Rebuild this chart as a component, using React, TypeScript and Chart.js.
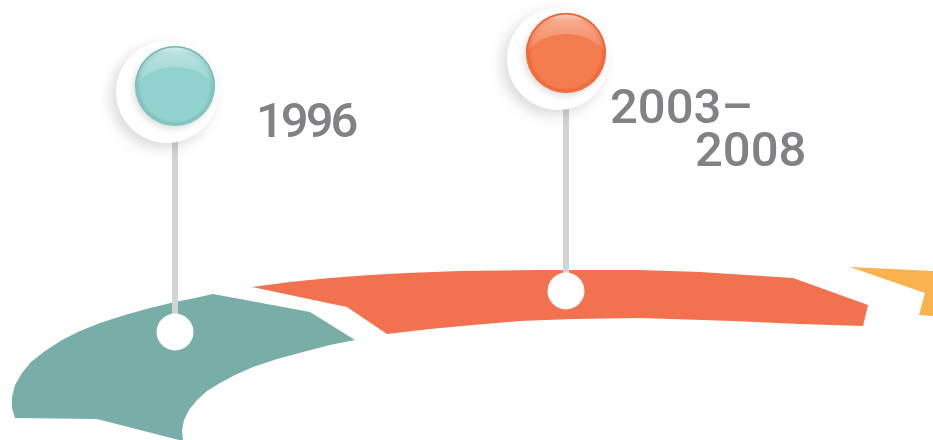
import React, { useEffect, useRef } from "react";
import { Chart, registerables } from "chart.js";

Chart.register(...registerables);

const W = 933;
const H = 440;

// Milestones on the timeline
const milestoneLabels = ["1996", "2003–2008"];
const milestoneX = [175, 566];
const headY = [86, 53];
const baseY = [332, 291];
const ballColors = ["#92d2ce", "#f47d50"];
const ballRims = ["#72b8b2", "#ec5a29"];

// Timeline band outlines (x, y) in the chart's units
const tealBand = [
  [213, 294], [310, 312], [355, 340], [330, 345], [303, 352], [277, 359], [253, 367],
  [235, 375], [220, 383], [207, 391], [197, 400], [189, 410], [184, 420], [182, 430],
  [183, 441], [97, 419], [15, 418], [12, 408], [12, 397], [15, 385], [22, 373],
  [31, 362], [45, 351], [62, 340], [80, 331], [100, 323], [125, 315], [150, 308],
  [175, 302], [195, 298],
];
const orangeBand = [
  [252, 287], [290, 282], [330, 278], [370, 275], [407, 273], [460, 271], [540, 270],
  [640, 270], [700, 272], [793, 278], [868, 305], [863, 326], [800, 324], [733, 321],
  [640, 318], [573, 319], [520, 321], [473, 325], [430, 329], [387, 334], [347, 307],
];
const yellowBand = [
  [850, 267], [934, 271], [934, 316], [919, 315], [925, 293],
];

const bandColors = ["#79ada7", "#f2714f", "#f9b24e"];

const toPts = (arr: number[][]) => arr.map(([x, y]) => ({ x, y }));

const labelLayout = [
  [{ dx: 81, y: 137, ls: -3 }],
  [{ dx: 44, y: 123, ls: 0 }, { dx: 129, y: 166, ls: 0 }],
];

const decorPlugin = {
  id: "decor",
  beforeDatasetDraw(chart: any, args: any) {
    const ds = chart.data.datasets[args.index];
    const ctx = chart.ctx;
    if (ds.role === "halo") {
      ctx.save();
      ctx.shadowColor = "rgba(0,0,0,0.15)";
      ctx.shadowBlur = 14;
      ctx.shadowOffsetX = -5;
      ctx.shadowOffsetY = 5;
    } else if (ds.role === "ball") {
      ctx.save();
      ctx.shadowColor = "rgba(0,0,0,0.15)";
      ctx.shadowBlur = 6;
      ctx.shadowOffsetX = -2;
      ctx.shadowOffsetY = 3;
    }
  },
  afterDatasetDraw(chart: any, args: any) {
    const ds = chart.data.datasets[args.index];
    const ctx = chart.ctx;
    if (ds.role === "halo") {
      ctx.restore();
    } else if (ds.role === "ball") {
      ctx.restore();
      args.meta.data.forEach((el: any, i: number) => {
        const x = el.x;
        const y = el.y;
        const r = el.options.radius;
        ctx.save();
        const g = ctx.createRadialGradient(x, y + r * 0.1, r * 0.3, x, y, r);
        g.addColorStop(0, ballColors[i]);
        g.addColorStop(0.78, ballColors[i]);
        g.addColorStop(1, ballRims[i]);
        ctx.fillStyle = g;
        ctx.beginPath();
        ctx.arc(x, y, r, 0, Math.PI * 2);
        ctx.fill();
        // glossy highlight
        ctx.beginPath();
        ctx.arc(x, y, r - 1.5, 0, Math.PI * 2);
        ctx.ellipse(x, y + r * 0.4, r * 1.1, r * 0.88, 0, 0, Math.PI * 2, true);
        const lg = ctx.createLinearGradient(0, y - r, 0, y - r * 0.2);
        lg.addColorStop(0, "rgba(255,255,255,0.75)");
        lg.addColorStop(0.25, "rgba(255,255,255,0.35)");
        lg.addColorStop(1, "rgba(255,255,255,0.12)");
        ctx.fillStyle = lg;
        ctx.fill("evenodd");
        ctx.restore();
      });
    }
  },
  afterDatasetsDraw(chart: any) {
    const { ctx, scales } = chart;
    const xs = scales.x;
    const ys = scales.y;
    ctx.save();
    ctx.fillStyle = "#808285";
    ctx.font = "500 49px Roboto";
    ctx.textBaseline = "alphabetic";
    ctx.textAlign = "left";
    milestoneLabels.forEach((label, i) => {
      const lines = label.includes("–") ? [label.split("–")[0] + "–", label.split("–")[1]] : [label];
      lines.forEach((t, j) => {
        const lay = labelLayout[i][j];
        (ctx as any).letterSpacing = lay.ls + "px";
        ctx.fillText(t, xs.getPixelForValue(milestoneX[i] + lay.dx), ys.getPixelForValue(lay.y));
      });
    });
    (ctx as any).letterSpacing = "0px";
    ctx.restore();
  },
};

export default function App() {
  const ref = useRef<HTMLCanvasElement | null>(null);
  useEffect(() => {
    document.body.style.margin = "0";
    const canvas = ref.current!;
    const bandDs = [tealBand, orangeBand, yellowBand].map((b, i) => ({
      role: "band",
      data: toPts(b),
      showLine: true,
      borderWidth: 0,
      pointRadius: 0,
      fill: "shape",
      backgroundColor: bandColors[i],
      tension: 0,
      order: 5,
    }));
    const stemDs = milestoneX.map((x, i) => ({
      role: "stem",
      data: [{ x, y: headY[i] }, { x, y: baseY[i] }],
      showLine: true,
      borderWidth: 6,
      borderColor: "#d3d4d5",
      pointRadius: 0,
      fill: false,
      order: 4,
    }));
    const chart = new Chart(canvas, {
      type: "line",
      data: {
        datasets: [
          ...bandDs,
          ...stemDs,
          {
            role: "dot",
            data: milestoneX.map((x, i) => ({ x, y: baseY[i] })),
            showLine: false,
            pointRadius: 18.5,
            pointBorderWidth: 0,
            pointBackgroundColor: "#ffffff",
            order: 3,
          },
          {
            role: "halo",
            data: milestoneX.map((x, i) => ({ x: x - 8, y: headY[i] + 6 })),
            showLine: false,
            pointRadius: 51,
            pointBorderWidth: 0,
            pointBackgroundColor: "#ffffff",
            order: 2,
          },
          {
            role: "ball",
            data: milestoneX.map((x, i) => ({ x, y: headY[i] })),
            showLine: false,
            pointRadius: 40,
            pointBorderWidth: 0,
            pointBackgroundColor: ballColors,
            order: 1,
          },
        ] as any,
      },
      options: {
        animation: false,
        responsive: false,
        layout: { padding: 0, autoPadding: false },
        plugins: { legend: { display: false }, tooltip: { enabled: false } },
        events: [],
        scales: {
          x: { type: "linear", min: 0, max: W, display: false },
          y: { type: "linear", min: 0, max: H, reverse: true, display: false },
        },
      },
      plugins: [decorPlugin],
    });
    return () => chart.destroy();
  }, []);
  return <canvas ref={ref} width={W} height={H} style={{ display: "block", width: W, height: H }} />;
}
